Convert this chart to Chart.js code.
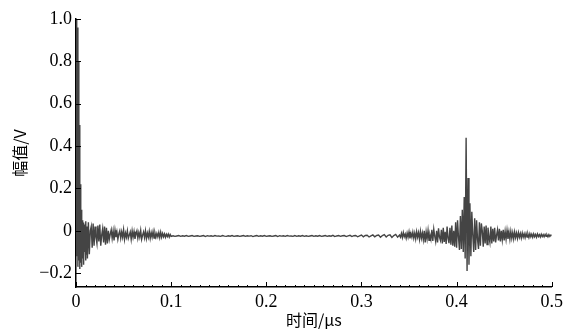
<!DOCTYPE html>
<html>
<head>
<meta charset="utf-8">
<script src="https://cdn.jsdelivr.net/npm/chart.js@4/dist/chart.umd.min.js"></script>
<style>
  html, body { margin: 0; padding: 0; background: #fff; }
  #wrap { width: 567px; height: 330px; }
</style>
</head>
<body>
<div id="wrap"><canvas id="myChart" width="567" height="330"></canvas></div>
<script>
const spikeStart = 0, spikeStep = 0.0005;
const spikeAmp = [
  0.0, 1.0, -0.12, 0.96, -0.17, 0.8, -0.14, 0.5, -0.18, 0.22,
  -0.15, 0.1, -0.17, 0.05, -0.13, 0.04, -0.16, 0.03, -0.1, -0.02,
  -0.14, 0.045, -0.11, 0.02
];

const headStart = 0.012, headStep = 0.001;
const headAmp = [
  -0.13, 0.04, -0.11, 0.0, 0.02, -0.08, 0.035, -0.07, 0.02, -0.03,
  -0.06, 0.025, -0.05, 0.03, -0.07, -0.02, 0.01, -0.055, 0.02, -0.065,
  0.015, -0.06, 0.0, -0.04, -0.015, 0.005, -0.035, 0.0, -0.045, 0.003,
  -0.03, -0.005, -0.04, -0.015, 0.0, -0.035, -0.005, -0.03, 0.005, -0.04,
  -0.01, -0.03, 0.0, -0.035, -0.02, -0.005, -0.04, 0.0, -0.03, -0.003,
  -0.038, -0.015, 0.0, -0.035, -0.008, -0.03, 0.002, -0.04, -0.02, -0.005,
  -0.032, 0.0, -0.036, -0.01, -0.03, -0.002, -0.035, -0.008, -0.03, -0.003,
  -0.034, -0.01, -0.03, -0.012, -0.028, -0.008, -0.032, -0.006, -0.03, -0.012,
  -0.028, -0.014, -0.03, -0.016, -0.027, -0.015, -0.029, -0.017, -0.026
];

const midStart = 0.102, midStep = 0.002;
const midAmp = [
  -0.023, -0.026, -0.024, -0.022, -0.026, -0.023, -0.025, -0.022, -0.026, -0.024,
  -0.022, -0.026, -0.024, -0.023, -0.026, -0.024, -0.022, -0.027, -0.023, -0.025,
  -0.023, -0.026, -0.022, -0.025, -0.024, -0.026, -0.022, -0.025, -0.026, -0.023,
  -0.025, -0.022, -0.026, -0.024, -0.023, -0.026, -0.024, -0.022, -0.026, -0.023,
  -0.025, -0.023, -0.027, -0.024, -0.022, -0.026, -0.023, -0.025, -0.022, -0.026,
  -0.024, -0.023, -0.026, -0.024, -0.022, -0.027, -0.023, -0.025, -0.023, -0.026,
  -0.022, -0.025, -0.024, -0.026, -0.022, -0.026, -0.023, -0.025, -0.022, -0.026,
  -0.023, -0.026, -0.024, -0.022, -0.026, -0.023, -0.025, -0.022, -0.026, -0.024,
  -0.022, -0.026, -0.023, -0.025, -0.021, -0.027, -0.024, -0.022, -0.026, -0.023,
  -0.022, -0.027, -0.024, -0.021, -0.027, -0.023, -0.022, -0.028, -0.024, -0.02,
  -0.028, -0.022, -0.021, -0.029, -0.024, -0.019, -0.028, -0.022, -0.02, -0.03,
  -0.022, -0.018, -0.029, -0.021, -0.019, -0.031, -0.022, -0.017, -0.03
];

const tailStart = 0.34, tailStep = 0.001;
const tailAmp = [
  -0.02, -0.03, -0.012, -0.032, -0.008, -0.028, -0.015, -0.035, -0.01, -0.03,
  -0.005, -0.036, -0.012, -0.03, -0.006, -0.034, -0.01, -0.038, -0.004, -0.03,
  -0.008, -0.04, -0.002, -0.035, -0.01, -0.042, 0.0, -0.055, -0.005, -0.038,
  0.002, -0.045, -0.02, -0.04, 0.005, -0.048, 0.008, -0.025, -0.05, 0.0,
  -0.055, 0.012, -0.03, -0.045, 0.005, -0.06, 0.015, -0.052, -0.005, -0.062,
  0.02, -0.035, -0.058, 0.015, -0.065, 0.025, -0.07, 0.0, -0.075, 0.04,
  -0.08, 0.05, -0.03, -0.09, 0.07, -0.085, 0.1, -0.1, 0.16, -0.13,
  0.44,
  -0.19, 0.25, -0.16, 0.13, -0.12, 0.09, -0.02, -0.1, 0.06,
  -0.09, 0.05, -0.04, -0.085, 0.04, -0.07, 0.035, 0.0, -0.075, 0.02,
  -0.06, 0.025, -0.065, 0.015, -0.03, -0.055, 0.02, -0.06, 0.01, -0.05,
  0.015, -0.055, -0.02, 0.005, -0.045, 0.01, -0.05, 0.0, -0.042, 0.005,
  -0.045, -0.002, -0.04, 0.002, -0.038, -0.005, -0.04, -0.002, -0.035, -0.008,
  -0.038, -0.005, -0.032, -0.01, -0.035, -0.008, -0.03, -0.012, -0.034, -0.01,
  -0.03, -0.014, -0.032, -0.012, -0.029, -0.015, -0.031, -0.013, -0.028, -0.016,
  -0.03, -0.014, -0.028, -0.017, -0.03, -0.015, -0.027, -0.018, -0.029, -0.016,
  -0.027, -0.018, -0.028, -0.017, -0.026, -0.019, -0.028, -0.018, -0.026, -0.02,
  -0.022
];

const xTicks = [0, 0.1, 0.2, 0.3, 0.4, 0.5];
const yTicks = [-0.2, 0, 0.2, 0.4, 0.6, 0.8, 1.0];

function toPoints(start, step, amps) {
  return amps.map((v, i) => ({ x: +(start + i * step).toFixed(5), y: v }));
}

const trace = [].concat(
  toPoints(spikeStart, spikeStep, spikeAmp),
  toPoints(headStart, headStep, headAmp),
  toPoints(midStart, midStep, midAmp),
  toPoints(tailStart, tailStep, tailAmp)
);

const serif = '"Liberation Serif", "Times New Roman", serif';
const cjk = '"Noto Sans CJK SC", sans-serif';

// inward major ticks plus small minor ticks on x
const inTicks = {
  id: 'inTicks',
  afterDraw(c) {
    const g = c.ctx, xs = c.scales.x, ys = c.scales.y;
    const a = c.chartArea;
    g.save();
    g.strokeStyle = '#000';
    g.lineWidth = 1;
    g.beginPath();
    for (let i = 0; i <= 50; i++) {
      const px = Math.round(xs.getPixelForValue(i / 100)) + 0.5;
      const len = (i % 10 === 0) ? 5 : 2;
      g.moveTo(px, a.bottom);
      g.lineTo(px, a.bottom - len);
    }
    yTicks.forEach(v => {
      const py = Math.round(ys.getPixelForValue(v)) + 0.5;
      g.moveTo(a.left, py);
      g.lineTo(a.left + 5, py);
    });
    g.stroke();
    g.restore();
  }
};

new Chart(document.getElementById('myChart').getContext('2d'), {
  type: 'line',
  data: {
    datasets: [{
      data: trace,
      borderColor: '#444',
      borderWidth: 1.4,
      pointRadius: 0,
      tension: 0,
      fill: false
    }]
  },
  options: {
    responsive: false,
    animation: false,
    events: [],
    layout: { padding: { top: 19, right: 14, left: 0, bottom: 0 } },
    plugins: { legend: { display: false }, tooltip: { enabled: false } },
    scales: {
      x: {
        type: 'linear',
        min: 0, max: 0.5,
        afterBuildTicks: s => { s.ticks = xTicks.map(v => ({ value: v })); },
        afterFit: s => { s.height = 43; },
        grid: { display: false, drawTicks: false },
        border: { display: true, color: '#000', width: 1.5 },
        ticks: {
          color: '#000', padding: 4, maxRotation: 0,
          font: { family: serif, size: 18 },
          callback: v => v === 0 ? '0' : String(v)
        },
        title: {
          display: true, text: '时间/μs', color: '#000',
          font: { family: cjk, size: 16 }, padding: { top: 0, bottom: 0 }
        }
      },
      y: {
        type: 'linear',
        min: -0.265, max: 1.0,
        afterBuildTicks: s => { s.ticks = yTicks.map(v => ({ value: v })); },
        afterFit: s => { s.width = 76; },
        grid: { display: false, drawTicks: false },
        border: { display: true, color: '#000', width: 1.5 },
        ticks: {
          color: '#000', padding: 4,
          font: { family: serif, size: 18 },
          callback: v => {
            if (Math.abs(v) < 1e-9) return '0';
            const s = Math.abs(v).toFixed(1);
            return v < 0 ? '\u2212' + s : s;
          }
        },
        title: {
          display: true, text: '幅值/V', color: '#000',
          font: { family: cjk, size: 16 }, padding: { top: 10, bottom: 0 }
        }
      }
    }
  },
  plugins: [inTicks]
});
</script>
</body>
</html>
